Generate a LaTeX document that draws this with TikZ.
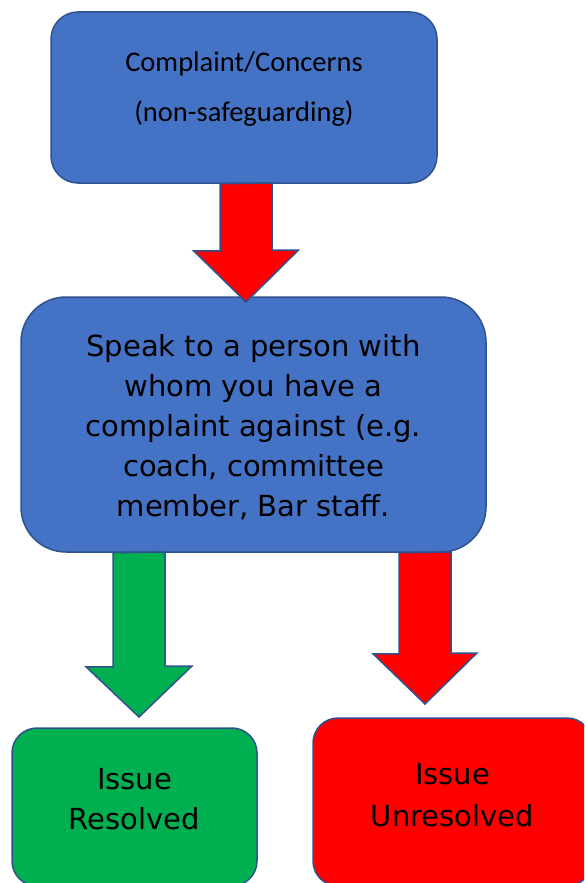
\documentclass[tikz,border=0pt]{standalone}
\usepackage{fontspec}
\setmainfont{Carlito}
\newfontfamily\comicfont{DejaVu Sans}
\usetikzlibrary{calc}
\definecolor{boxBlue}{RGB}{68,114,196}
\definecolor{boxEdge}{RGB}{47,82,143}
\definecolor{okGreen}{RGB}{0,176,80}
\definecolor{badRed}{RGB}{255,0,0}
\tikzset{
    box/.style={rectangle,rounded corners=#1,draw=boxEdge,line width=1.5pt,inner sep=0pt},
    box/.default=25pt,
    txt/.style={align=center,inner sep=0pt,text=black},
    blockarrow/.style={draw=boxEdge,line width=1.5pt,line join=miter,fill=#1},
}

\begin{document}
\begin{tikzpicture}[x=1pt,y=-1pt]
    \useasboundingbox (0,0) rectangle (584,883);
    \clip (0,0) rectangle (584,883);

    % boxes
    \node[box=27pt,fill=boxBlue,minimum width=386pt,minimum height=171pt] (complaint) at (244,97.5) {};
    \node[box=45pt,fill=boxBlue,minimum width=465pt,minimum height=255pt] (speak) at (253.5,424.5) {};
    \node[box,fill=okGreen,minimum width=245pt,minimum height=158pt] (resolved) at (134.5,807) {};
    \node[box,fill=badRed,minimum width=279pt,minimum height=168pt] (unresolved) at (452.5,802) {};

    % texts
    \node[txt,font=\fontsize{28.5}{50}\selectfont] (complaintTxt) at ($(complaint)+(0,-8)$)
        {Complaint/Concerns\\(non-safeguarding)};
    \node[txt,font=\comicfont\fontsize{29}{40}\selectfont] (speakTxt) at ($(speak)+(0,2.5)$)
        {Speak to a person with\\whom you have a\\complaint against (e.g.\\coach, committee\\member, Bar staff.};
    \node[txt,font=\comicfont\fontsize{29}{40}\selectfont] (resolvedTxt) at ($(resolved)+(0,-7.5)$)
        {Issue\\Resolved};
    \node[txt,font=\comicfont\fontsize{29}{42}\selectfont] (unresolvedTxt) at ($(unresolved)+(0,-6.5)$)
        {Issue\\Unresolved};

    % arrow tips
    \coordinate (tipTop) at (246,302);
    \coordinate (tipOk) at (139,717);
    \coordinate (tipBad) at (425,704);

    \draw[blockarrow=badRed] (tipTop |- complaint.south) ++(-26,0) -- ++(0,67) -- ++(-26.5,0)
        -- (tipTop) -- ++(52.5,-52) -- ++(-26.5,0) -- ++(0,-67) -- cycle;
    \draw[blockarrow=okGreen] (tipOk |- speak.south) ++(-26,0) -- ++(0,114) -- ++(-27,0)
        -- (tipOk) -- ++(53,-51) -- ++(-27,0) -- ++(0,-114) -- cycle;
    \draw[blockarrow=badRed] (tipBad |- speak.south) ++(-26,0) -- ++(0,101) -- ++(-26,0)
        -- (tipBad) -- ++(52,-51) -- ++(-26,0) -- ++(0,-101) -- cycle;
\end{tikzpicture}
\end{document}
